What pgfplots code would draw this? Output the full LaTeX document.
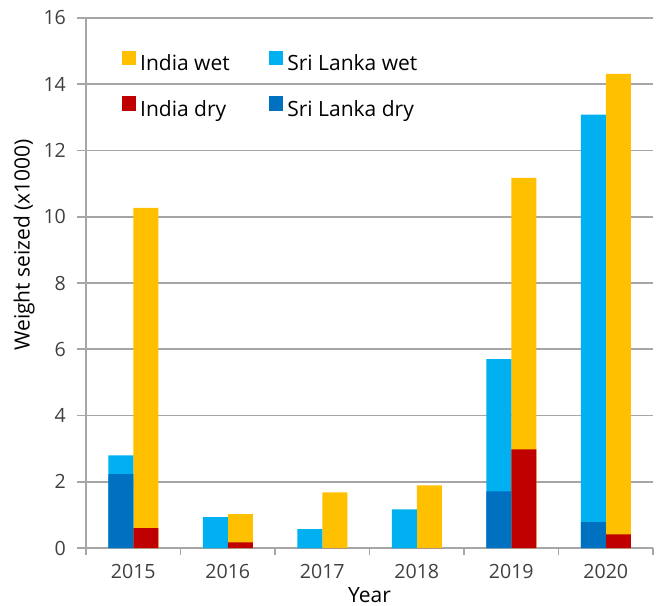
\documentclass[border=0pt]{standalone}
\usepackage{pgfplots}
\pgfplotsset{compat=1.18}
\usepackage{fontspec}
\setmainfont{Open Sans}
\definecolor{iwet}{HTML}{FFC000}
\definecolor{slwet}{HTML}{00B0F0}
\definecolor{idry}{HTML}{C00000}
\definecolor{sldry}{HTML}{0070C0}
\definecolor{gridc}{HTML}{A6A6A6}
\definecolor{tickc}{HTML}{404040}
\begin{document}
\begin{tikzpicture}
\begin{axis}[name=ax,
  scale only axis, width=283.5pt, height=265pt,
  xmin=-0.5, xmax=5.5, ymin=0, ymax=16,
  ytick={0,2,...,16},
  xtick={0,...,5}, xticklabels={2015,2016,2017,2018,2019,2020},
  minor xtick={-0.5,0.5,...,5.5},
  axis x line*=bottom, axis y line*=left,
  axis line style={gridc, line width=0.8pt},
  ymajorgrids, grid style={gridc, line width=0.8pt},
  tick align=outside,
  major tick style={gridc, line width=0.8pt},
  minor tick style={gridc, line width=0.8pt},
  xtick style={draw=none},
  minor x tick style={draw=gridc},
  major tick length=4.5pt, minor tick length=3.5pt,
  /pgf/number format/assume math mode=true,
  tick label style={font=\fontsize{9.8}{11}\selectfont, text=tickc},
  yticklabel style={xshift=-2pt},
  xlabel={Year}, ylabel={Weight seized (x1000)},
  label style={font=\fontsize{10.5}{12}\selectfont},
  xlabel style={at={(rel axis cs:0.5,-0.061)}, anchor=north},
  ylabel style={at={(rel axis cs:-0.078,0.572)}, anchor=south},
  ybar, bar width=12.5pt,
  legend columns=2,
  legend style={draw=none, fill=none, at={(0.062,1)}, anchor=north west, yshift=-16.2pt,
    inner sep=0pt, font=\fontsize{10.5}{12}\selectfont,
    nodes={inner sep=0pt, text height=7.8pt, text depth=2.4pt},
    /tikz/every odd column/.append style={column sep=2pt},
    /tikz/every even column/.append style={column sep=19.5pt},
    row sep=10.3pt},
  legend cell align=left,
  legend image code/.code={\fill[#1] (0pt,0pt) rectangle (7.3pt,7.3pt);},
]
% totals drawn first, dry parts drawn over them
\addplot[fill=iwet, draw=none, bar shift=6.25pt] coordinates {(0,10.27) (1,1.02) (2,1.68) (3,1.89) (4,11.17) (5,14.31)};
\addplot[fill=slwet, draw=none, bar shift=-6.25pt] coordinates {(0,2.80) (1,0.93) (2,0.57) (3,1.17) (4,5.70) (5,13.08)};
\addplot[fill=idry, draw=none, bar shift=6.25pt] coordinates {(0,0.60) (1,0.17) (2,0) (3,0) (4,2.98) (5,0.41)};
\addplot[fill=sldry, draw=none, bar shift=-6.25pt] coordinates {(0,2.23) (1,0) (2,0) (3,0) (4,1.71) (5,0.78)};
\legend{India wet, Sri Lanka wet, India dry, Sri Lanka dry}
\end{axis}
\pgfresetboundingbox
\path ([xshift=-43pt,yshift=-28.5pt]ax.south west) rectangle ([xshift=3pt,yshift=9pt]ax.north east);
\end{tikzpicture}
\end{document}
